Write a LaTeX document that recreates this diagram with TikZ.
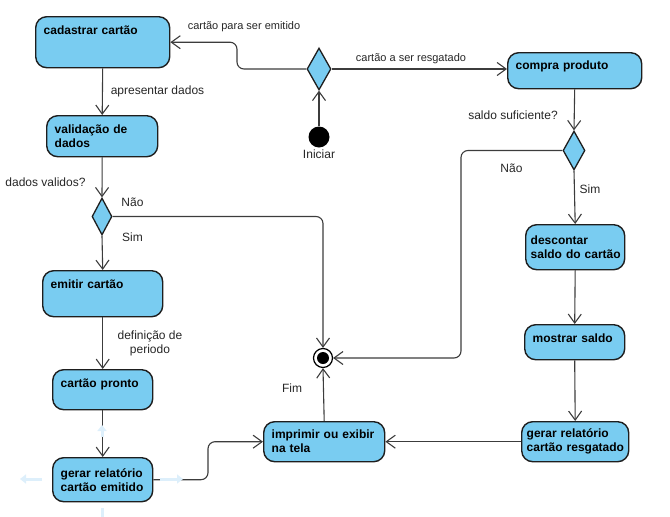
\documentclass[tikz,border=0pt]{standalone}
\usepackage{fontspec}
\setmainfont{Liberation Sans}
\usetikzlibrary{shapes.geometric,arrows.meta,calc}
\definecolor{actblue}{HTML}{79CCF1}
\definecolor{edgec}{HTML}{3C3C3C}
\definecolor{boxline}{HTML}{1E1E1E}
\definecolor{hoverc}{HTML}{DDEFFB}
\begin{document}
\begin{tikzpicture}[x=1pt,y=-1pt,
  act/.style={draw=boxline, line width=1.4pt, fill=actblue, rounded corners=11pt,
    font=\bfseries\fontsize{12}{14}\selectfont, align=left, inner xsep=8pt,
    inner ysep=0pt, anchor=north west},
  dec/.style={diamond, draw=boxline, line width=1.3pt, fill=actblue, inner sep=0pt},
  flow/.style={draw=edgec, line width=1.1pt, -{Straight Barb[length=9pt,width=13pt]}},
  lbl/.style={font=\fontsize{12}{14}\selectfont, inner sep=0pt, text=black!85},
  slbl/.style={font=\fontsize{11}{13}\selectfont, inner sep=0pt, text=black!85},
  hover/.style={draw=hoverc, line width=3pt, -{Triangle[length=6pt,width=9pt]}},
]
\useasboundingbox (0,0) rectangle (670,517);

% activities
\node[act, text width=118pt, text height=18pt, text depth=33pt] (cad) at (35,16) {\mbox{cadastrar cartão}};
\node[act, text width=95pt, minimum height=41pt] (val) at (46,115) {\mbox{validação de}\\dados};
\node[act, text width=104pt, text height=18pt, text depth=28pt] (emit) at (42,270) {\mbox{emitir cartão}};
\node[act, text width=84pt, text height=18pt, text depth=22pt] (pronto) at (52,369) {\mbox{cartão pronto}};
\node[act, text width=84pt, minimum height=44pt] (gerE) at (52,457) {\mbox{gerar relatório}\\\mbox{cartão emitido}};
\node[act, text width=105pt, minimum height=40pt] (imp) at (263,421) {\mbox{imprimir ou exibir}\\\mbox{na tela}};
\node[act, text width=118pt, text height=17pt, text depth=19pt] (cp) at (507,52) {\mbox{compra produto}};
\node[act, inner xsep=5pt, text width=89pt, minimum height=45pt] (desc) at (525,224) {descontar\\\mbox{saldo do cartão}};
\node[act, text width=84pt, text height=18pt, text depth=17pt] (most) at (524,324) {\mbox{mostrar saldo}};
\node[act, inner xsep=5pt, text width=97pt, minimum height=40pt] (gerR) at (521,421) {\mbox{gerar relatório}\\\mbox{cartão resgatado}};

% decisions
\node[dec, minimum width=24pt, minimum height=42pt] (d0) at (319,69) {};
\node[dec, minimum width=20pt, minimum height=37pt] (d1) at (102,216.5) {};
\node[dec, minimum width=22pt, minimum height=39pt] (d2) at (574,150.5) {};

% initial and final
\node[circle, fill=black, minimum size=21pt, inner sep=0pt] (ini) at (319,137) {};
\node[lbl, anchor=north] (iniT) at (319,150) {Iniciar};
\node[circle, draw=black, line width=1.2pt, fill=white, minimum size=19pt, inner sep=0pt,
  path picture={\fill[black] (path picture bounding box.center) circle (6pt);}] (fin) at (323,358) {};

% helper coordinates
\coordinate (k0) at (237,0);
\coordinate (k2) at (461,0);
\coordinate (k3) at (208,0);

% connectors
\draw[flow] (ini) -- (d0.south);
\draw[flow, rounded corners=7pt] (d0.west) -- (d0.west -| k0) |- (cad.east);
\draw[flow] (d0.east) -- (d0.east -| cp.west);
\draw[flow] (cad.south) -- (val.north);
\draw[flow] (val.south) -- (d1.north);
\draw[flow] (d1.south) -- (emit.north);
\draw[flow, rounded corners=7pt] (d1.east) -| (fin.north);
\draw[flow] (emit.south) -- (pronto.north);
\draw[flow] (pronto.south) -- (gerE.north);
\draw[flow, rounded corners=7pt] (gerE.east) -- (gerE.east -| k3) |- (imp.west);
\draw[flow] (imp.north) -- (fin.south);
\draw[flow] (cp.south) -- (d2.north);
\draw[flow, rounded corners=7pt] (d2.west) -- (d2.west -| k2) |- (fin.east);
\draw[flow] (d2.south) -- (desc.north);
\draw[flow] (desc.south) -- (most.north);
\draw[flow] (most.south) -- (gerR.north);
\draw[flow] (gerR.west) -- (imp.east);

% hover arrows around gerar relatorio cartao emitido
\coordinate (hu0) at (102,437); \coordinate (hu1) at (102,425);
\coordinate (hl0) at (42,479);  \coordinate (hl1) at (20,479);
\coordinate (hr0) at (160,479); \coordinate (hr1) at (183,479);
\coordinate (hd0) at (102,508); \coordinate (hd1) at (102,517);
\draw[hover] (hu0) -- (hu1);
\draw[hover] (hl0) -- (hl1);
\draw[hover] (hr0) -- (hr1);
\draw[draw=hoverc, line width=3pt] (hd0) -- (hd1);

% labels
\node[slbl] (l1) at (244,27) {cartão para ser emitido};
\node[slbl] (l2) at (411,59) {cartão a ser resgatado};
\node[lbl] (l3) at (157.5,91) {apresentar dados};
\node[lbl] (l4) at (45.5,182) {dados validos?};
\node[lbl] (l5) at (132.5,202) {Não};
\node[lbl] (l6) at (132.5,237) {Sim};
\node[lbl, align=center] (l7) at (150,343) {definição de\\periodo};
\node[lbl] (l8) at (292,388) {Fim};
\node[lbl] (l9) at (513,115) {saldo suficiente?};
\node[lbl] (l10) at (511.5,168) {Não};
\node[lbl] (l11) at (590,189) {Sim};
\end{tikzpicture}
\end{document}
